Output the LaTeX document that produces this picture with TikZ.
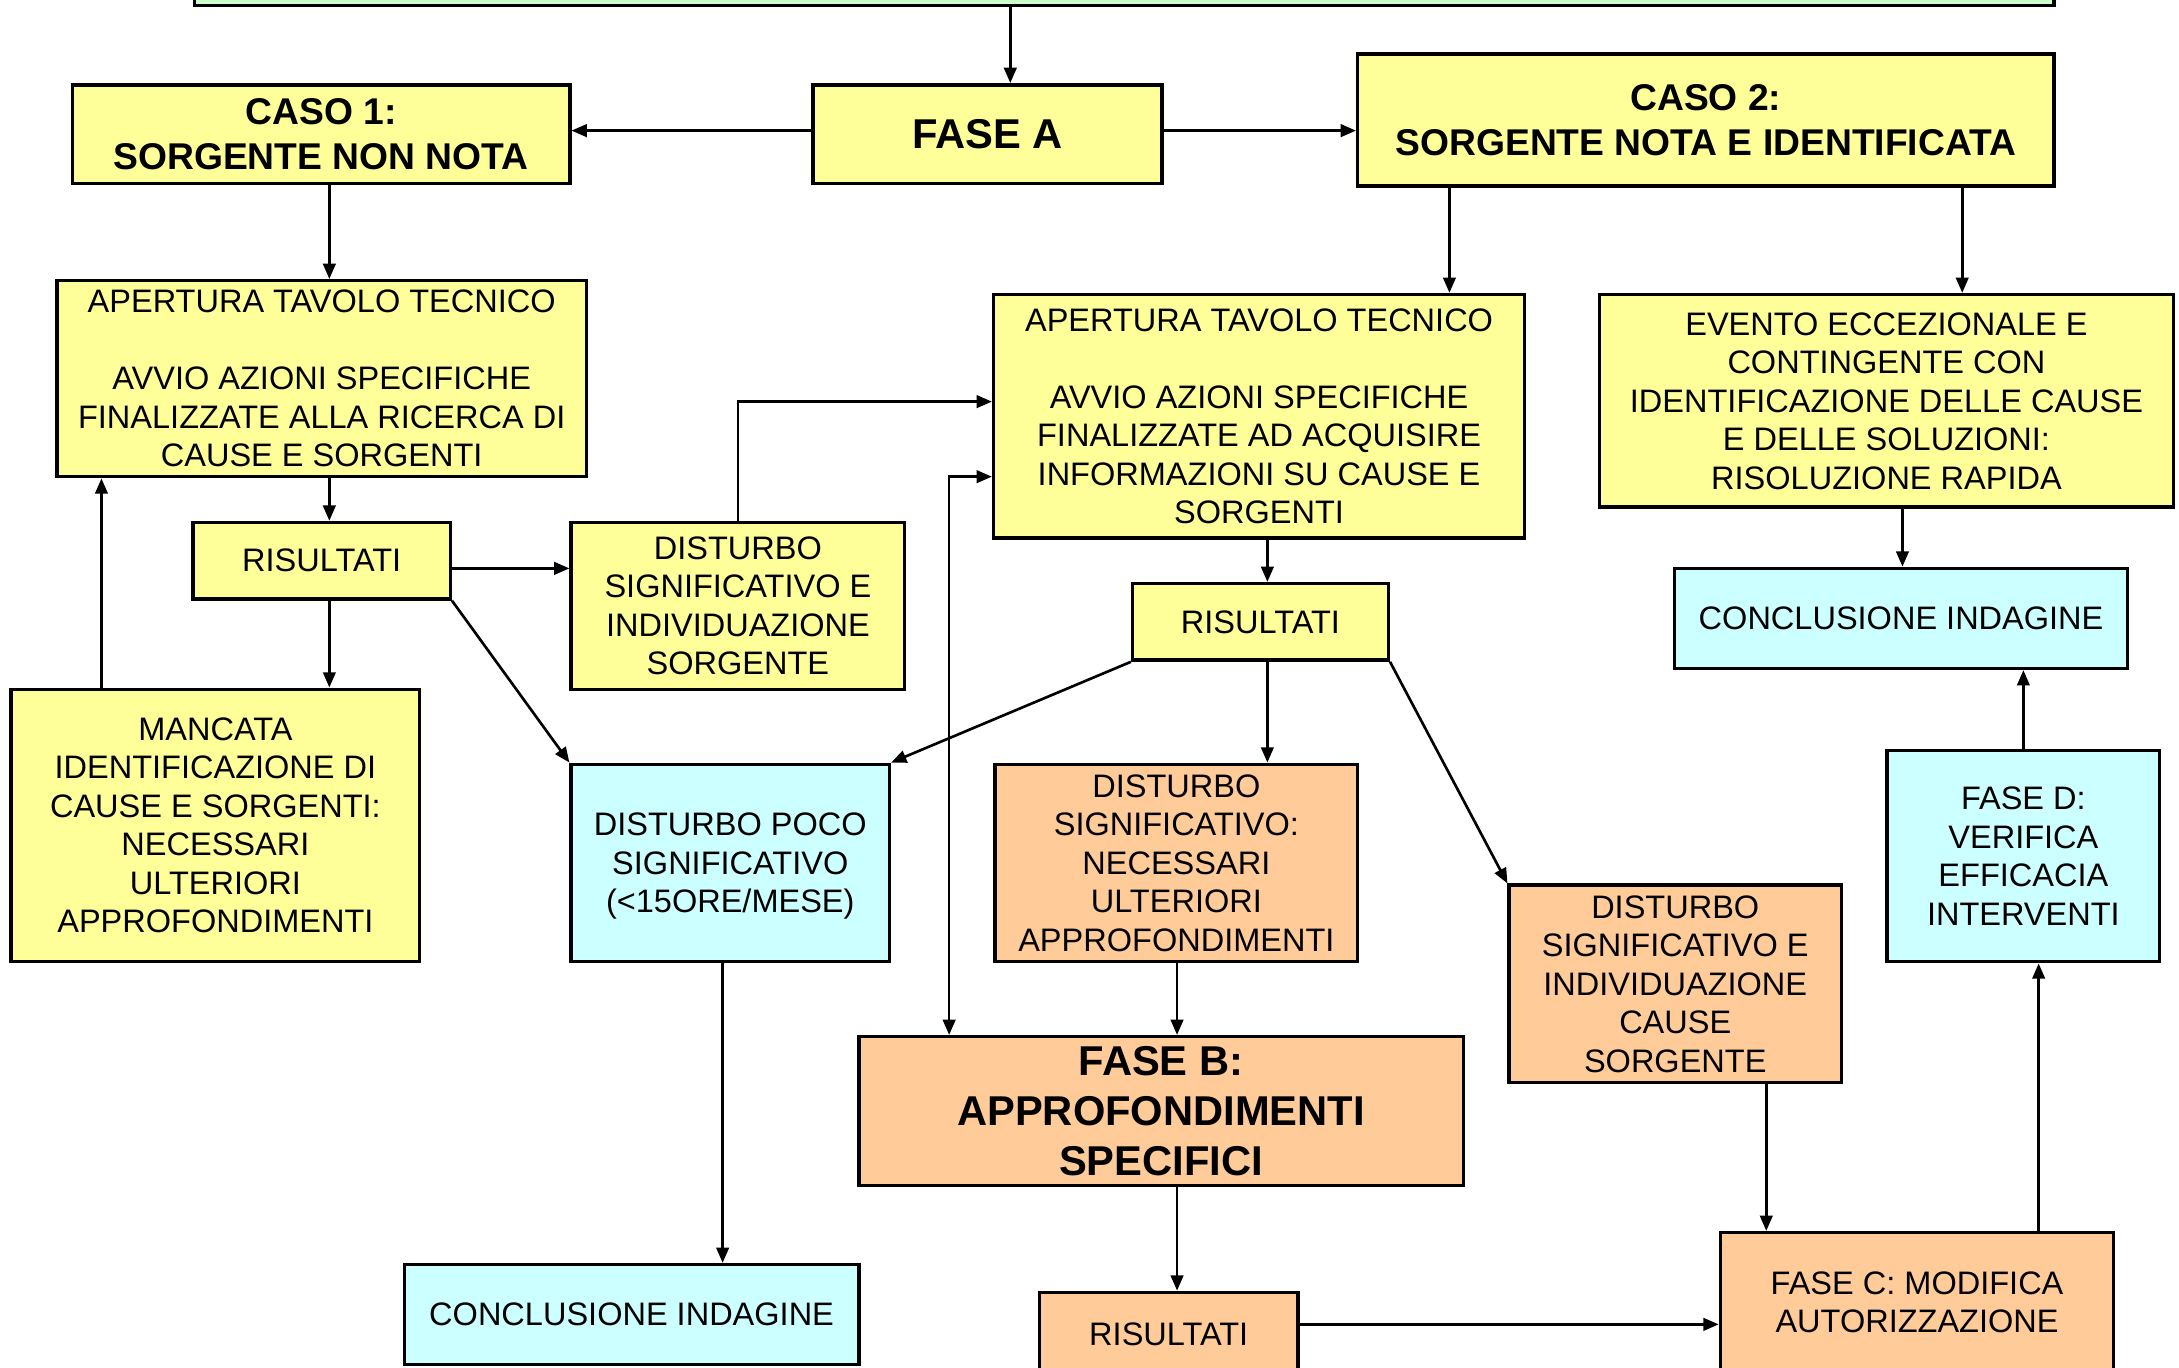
\documentclass[tikz,border=0pt]{standalone}
\usepackage{fontspec}
\setmainfont{Liberation Sans}
\usetikzlibrary{arrows.meta}
\definecolor{yel}{HTML}{FFFF99}
\definecolor{ora}{HTML}{FFCC99}
\definecolor{cya}{HTML}{CCFFFF}
\definecolor{grn}{HTML}{CCFFCC}
\tikzset{
  box/.style={draw=black, line width=1.25pt, inner sep=0pt, align=center,
    font=\fontsize{11.7}{13.85}\selectfont},
  sz/.style 2 args={minimum width={#1*0.5pt}, minimum height={#2*0.5pt}},
  ybox/.style={box, fill=yel},
  obox/.style={box, fill=ora},
  cbox/.style={box, fill=cya},
  gbox/.style={box, fill=grn},
  titlef/.style={font=\bfseries\fontsize{13.4}{16}\selectfont},
  bigf/.style={font=\bfseries\fontsize{15}{18}\selectfont},
  arr/.style={line width=0.95pt, -{Triangle[length=5.5pt,width=4.5pt]}},
  arrb/.style={line width=0.95pt, {Triangle[length=5.5pt,width=4.5pt]}-{Triangle[length=5.5pt,width=4.5pt]}},
}
\begin{document}
\begin{tikzpicture}[x=0.5pt, y=-0.5pt]
\useasboundingbox (0,0) rectangle (1568,984);
\clip (0,0) rectangle (1568,984);
\fill[white] (0,0) rectangle (1568,984);

% reference coordinates for connector columns / rows
\coordinate (X73) at (73,0);
\coordinate (X237) at (237,0);
\coordinate (X520) at (520,0);
\coordinate (X683) at (683,0);
\coordinate (X727) at (727,0);
\coordinate (X847) at (847,0);
\coordinate (X912) at (912,0);
\coordinate (X1043) at (1043,0);
\coordinate (X1271) at (1271,0);
\coordinate (X1369) at (1369,0);
\coordinate (X1412) at (1412,0);
\coordinate (X1456) at (1456,0);
\coordinate (X1467) at (1467,0);
\coordinate (Y94) at (0,94);
\coordinate (Y289) at (0,289);
\coordinate (Y343) at (0,343);
\coordinate (Y409) at (0,409);
\coordinate (Y953) at (0,953);

% nodes
\node[gbox, sz={1338}{40}] (top) at (809,-16) {};
\node[ybox, bigf, sz={251}{71}] (faseA) at (710.5,96.5) {FASE A};
\node[ybox, titlef, sz={358}{71}] (caso1) at (231,96.5) {CASO 1:\\SORGENTE NON NOTA};
\node[ybox, titlef, sz={501}{95}] (caso2) at (1227.5,86.5) {CASO 2:\\SORGENTE NOTA E IDENTIFICATA};
\node[ybox, sz={381}{141}] (ap1) at (231.5,272.5) {APERTURA TAVOLO TECNICO\\[13.85pt]AVVIO AZIONI SPECIFICHE\\FINALIZZATE ALLA RICERCA DI\\CAUSE E SORGENTI};
\node[ybox, sz={185}{55}] (ris1) at (231.5,403.5) {RISULTATI};
\node[ybox, sz={240}{120}] (dsi1) at (531,436) {DISTURBO\\SIGNIFICATIVO E\\INDIVIDUAZIONE\\SORGENTE};
\node[ybox, sz={294}{196}] (manc) at (155,594) {MANCATA\\IDENTIFICAZIONE DI\\CAUSE E SORGENTI:\\NECESSARI\\ULTERIORI\\APPROFONDIMENTI};
\node[cbox, sz={229}{142}, text depth=0pt] (poco) at (525.5,621) {DISTURBO POCO\\SIGNIFICATIVO\\(<15ORE/MESE)};
\node[cbox, sz={327}{72}] (concl1) at (454.5,946) {CONCLUSIONE INDAGINE};
\node[ybox, sz={382}{175}] (ap2) at (906,299.5) {APERTURA TAVOLO TECNICO\\[13.85pt]AVVIO AZIONI SPECIFICHE\\FINALIZZATE AD ACQUISIRE\\INFORMAZIONI SU CAUSE E\\SORGENTI};
\node[ybox, sz={184}{55}] (ris2) at (907,447.5) {RISULTATI};
\node[obox, sz={261}{142}] (nec) at (846.5,621) {DISTURBO\\SIGNIFICATIVO:\\NECESSARI\\ULTERIORI\\APPROFONDIMENTI};
\node[obox, sz={239}{142}] (dcs) at (1205.5,708) {DISTURBO\\SIGNIFICATIVO E\\INDIVIDUAZIONE\\CAUSE\\SORGENTE};
\node[obox, bigf, sz={435}{107}] (faseB) at (835.5,799.5) {FASE B:\\APPROFONDIMENTI\\SPECIFICI};
\node[obox, sz={186}{60}] (ris3) at (841,960) {RISULTATI};
\node[obox, sz={283}{100}] (faseC) at (1379.5,937) {FASE C: MODIFICA\\AUTORIZZAZIONE};
\node[cbox, sz={196}{152}] (faseD) at (1456,616) {FASE D:\\VERIFICA\\EFFICACIA\\INTERVENTI};
\node[cbox, sz={326}{72}] (concl2) at (1368,445) {CONCLUSIONE INDAGINE};
\node[ybox, sz={413}{153}] (evento) at (1357.5,288.5) {EVENTO ECCEZIONALE E\\CONTINGENTE CON\\IDENTIFICAZIONE DELLE CAUSE\\E DELLE SOLUZIONI:\\RISOLUZIONE RAPIDA};

% connectors
\draw[arr] (top.south -| X727) -- (faseA.north -| X727);
\draw[arr] (faseA.west |- Y94) -- (caso1.east |- Y94);
\draw[arr] (faseA.east |- Y94) -- (caso2.west |- Y94);
\draw[arr] (caso1.south -| X237) -- (ap1.north -| X237);
\draw[arr] (ap1.south -| X237) -- (ris1.north -| X237);
\draw[arr] (ris1.east |- Y409) -- (dsi1.west |- Y409);
\draw[arr] (ris1.south -| X237) -- (manc.north -| X237);
\draw[arr] (manc.north -| X73) -- (ap1.south -| X73);
\draw[arr] (ris1.south east) -- (poco.north west);
\draw[arr] (dsi1.north) |- (ap2.west |- Y289);
\draw[arr] (poco.south -| X520) -- (concl1.north -| X520);
\draw[arrb] (faseB.north -| X683) |- (ap2.west |- Y343);
\draw[arr] (caso2.south -| X1043) -- (ap2.north -| X1043);
\draw[arr] (ap2.south -| X912) -- (ris2.north -| X912);
\draw[arr] (ris2.south -| X912) -- (nec.north -| X912);
\draw[arr] (ris2.south west) -- (poco.north east);
\draw[arr] (ris2.south east) -- (dcs.north west);
\draw[arr] (nec.south -| X847) -- (faseB.north -| X847);
\draw[arr] (faseB.south -| X847) -- (ris3.north -| X847);
\draw[arr] (ris3.east |- Y953) -- (faseC.west |- Y953);
\draw[arr] (dcs.south -| X1271) -- (faseC.north -| X1271);
\draw[arr] (faseC.north -| X1467) -- (faseD.south -| X1467);
\draw[arr] (faseD.north -| X1456) -- (concl2.south -| X1456);
\draw[arr] (caso2.south -| X1412) -- (evento.north -| X1412);
\draw[arr] (evento.south -| X1369) -- (concl2.north -| X1369);
\end{tikzpicture}
\end{document}
